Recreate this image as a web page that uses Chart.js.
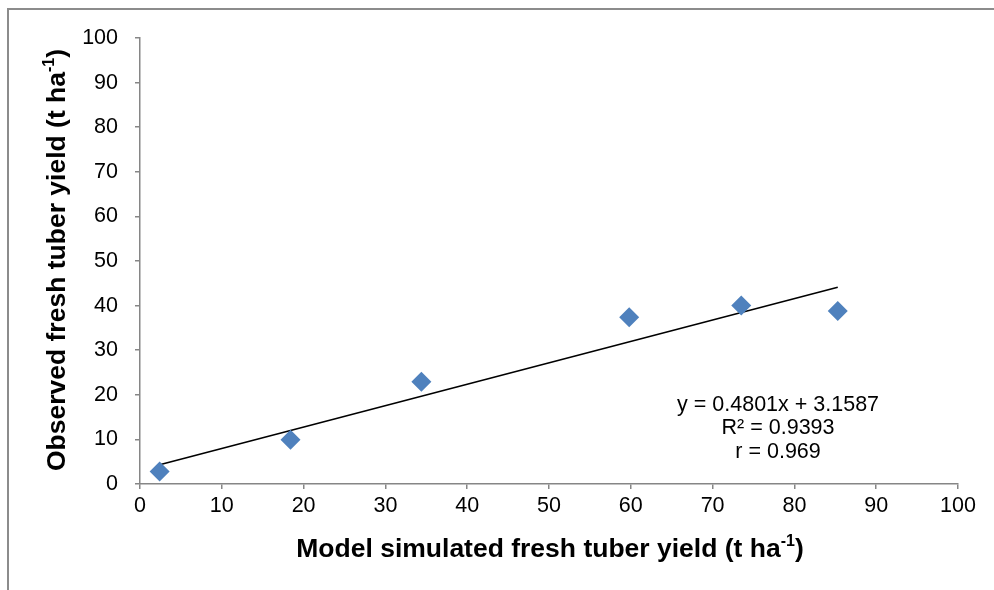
<!DOCTYPE html>
<html>
<head>
<meta charset="utf-8">
<script src="https://cdn.jsdelivr.net/npm/chart.js@4/dist/chart.umd.min.js"></script>
<style>
  html, body { margin: 0; padding: 0; background: #fff; }
  #wrap { position: relative; width: 994px; height: 590px; }
</style>
</head>
<body>
<div id="wrap"><canvas id="chart"></canvas></div>
<script>
// values
const simulated = [2.4, 18.4, 34.4, 59.8, 73.5, 85.3];
const observed = [2.8, 9.9, 22.9, 37.4, 40.0, 38.8];
const trendX = [2.4, 85.3];
const trendY = [4.3, 44.1];
const statLines = ['y = 0.4801x + 3.1587', 'R\u00b2 = 0.9393', 'r = 0.969'];
const statAt = {x: 78, y: 17.7};
const xTitle = ['Model simulated fresh tuber yield (t ha', '-1', ')'];
const yTitle = ['Observed fresh tuber yield (t ha', '-1', ')'];

const FONT = '"Liberation Sans", Arial, sans-serif';
const AXIS = '#868686';

const points = simulated.map((x, i) => ({x, y: observed[i]}));
const trend = trendX.map((x, i) => ({x, y: trendY[i]}));

// draw "text + superscript + text", centred on 0,0 of the current transform
function supText (ctx, parts, size) {
  const big = 'bold ' + size + 'px ' + FONT;
  const small = 'bold ' + Math.round(size * 0.6) + 'px ' + FONT;
  ctx.font = big;
  const w0 = ctx.measureText(parts[0]).width;
  const w2 = ctx.measureText(parts[2]).width;
  ctx.font = small;
  const w1 = ctx.measureText(parts[1]).width;
  let x = -(w0 + w1 + w2) / 2;
  ctx.textAlign = 'left';
  ctx.textBaseline = 'alphabetic';
  ctx.fillStyle = '#000';
  ctx.font = big;
  ctx.fillText(parts[0], x, 0);
  x += w0;
  ctx.font = small;
  ctx.fillText(parts[1], x, -size * 0.4);
  x += w1;
  ctx.font = big;
  ctx.fillText(parts[2], x, 0);
}

const decorations = {
  id: 'decorations',
  beforeDraw (chart) {
    const ctx = chart.ctx;
    ctx.save();
    ctx.strokeStyle = '#8c8c8c';
    ctx.lineWidth = 2;
    ctx.strokeRect(8, 9, 1000, 600);
    ctx.restore();
  },
  afterDraw (chart) {
    const ctx = chart.ctx;
    const {x, y} = chart.scales;

    ctx.save();
    ctx.translate(550, 557);
    supText(ctx, xTitle, 26.5);
    ctx.restore();

    ctx.save();
    ctx.translate(65, 260);
    ctx.rotate(-Math.PI / 2);
    supText(ctx, yTitle, 26.5);
    ctx.restore();

    ctx.save();
    ctx.font = '21.5px ' + FONT;
    ctx.fillStyle = '#000';
    ctx.textAlign = 'center';
    ctx.textBaseline = 'middle';
    const px = x.getPixelForValue(statAt.x);
    const py = y.getPixelForValue(statAt.y);
    statLines.forEach((line, i) => ctx.fillText(line, px, py + i * 23.5));
    ctx.restore();
  }
};

const axisCommon = {
  type: 'linear',
  min: 0,
  max: 100,
  border: {color: AXIS, width: 1.5},
  grid: {drawOnChartArea: false, drawTicks: true, tickLength: 5, color: AXIS, lineWidth: 1.5},
  ticks: {stepSize: 10, color: '#000', font: {family: FONT, size: 21.5}}
};

new Chart(document.getElementById('chart'), {
  type: 'scatter',
  data: {
    datasets: [
      {
        label: 'Observed',
        data: points,
        pointStyle: 'rectRot',
        pointRadius: 10,
        pointHoverRadius: 10,
        backgroundColor: '#4F81BD',
        borderColor: '#4F81BD',
        borderWidth: 0,
        order: 1
      },
      {
        label: 'Linear',
        type: 'line',
        data: trend,
        borderColor: '#000',
        borderWidth: 1.6,
        pointRadius: 0,
        fill: false,
        order: 2
      }
    ]
  },
  options: {
    responsive: true,
    maintainAspectRatio: false,
    animation: false,
    events: [],
    layout: {padding: {left: 0, right: 36, top: 38, bottom: 0}},
    plugins: {legend: {display: false}, tooltip: {enabled: false}},
    scales: {
      x: {
        ...axisCommon,
        ticks: {...axisCommon.ticks, padding: 4, maxRotation: 0},
        afterFit (scale) { scale.height = 106; }
      },
      y: {
        ...axisCommon,
        ticks: {...axisCommon.ticks, padding: 17},
        afterFit (scale) { scale.width = 140; }
      }
    }
  },
  plugins: [decorations]
});
</script>
</body>
</html>
